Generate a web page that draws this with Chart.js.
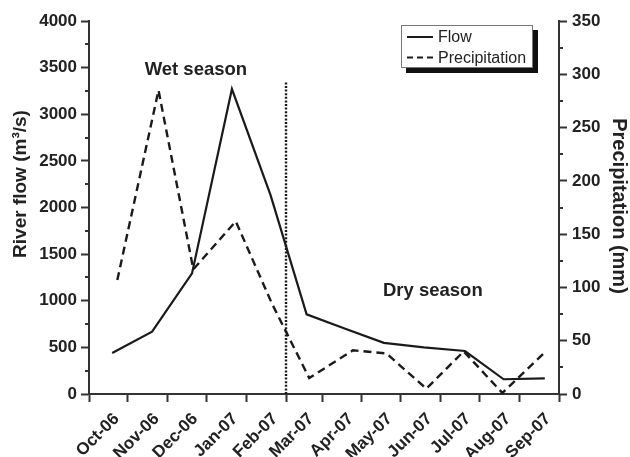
<!DOCTYPE html>
<html>
<head>
<meta charset="utf-8">
<script src="https://cdn.jsdelivr.net/npm/chart.js@4.4.1/dist/chart.umd.min.js"></script>
<style>
  html, body { margin: 0; padding: 0; background: #fff; }
  #wrap { width: 630px; height: 457px; position: relative; }
</style>
</head>
<body>
<div id="wrap"><canvas id="flowChart"></canvas></div>
<script>
// Tick marks sit on the 1st of each month, labels from Oct-06 on
const monthStarts = ['2006-09-01', '2006-10-01', '2006-11-01', '2006-12-01', '2007-01-01', '2007-02-01',
    '2007-03-01', '2007-04-01', '2007-05-01', '2007-06-01', '2007-07-01', '2007-08-01', '2007-09-01'];
const monthLabels = ['Oct-06', 'Nov-06', 'Dec-06', 'Jan-07', 'Feb-07', 'Mar-07',
    'Apr-07', 'May-07', 'Jun-07', 'Jul-07', 'Aug-07', 'Sep-07'];

// River flow (m3/s)
const flowDates = ['2006-09-19', '2006-10-20', '2006-11-20', '2006-12-21', '2007-01-20', '2007-02-17',
    '2007-03-19', '2007-04-18', '2007-05-19', '2007-06-20', '2007-07-20', '2007-08-21'];
const flowValues = [440, 668, 1293, 3270, 2133, 854, 700, 548, 500, 461, 158, 168];

// Precipitation (mm)
const precipDates = ['2006-09-23', '2006-10-25', '2006-11-21', '2006-12-24', '2007-01-21', '2007-02-19',
    '2007-03-25', '2007-04-20', '2007-05-21', '2007-06-19', '2007-07-19', '2007-08-20'];
const precipValues = [107, 285, 117, 162, 85, 15, 41, 38, 5, 40, 1, 38];

// Wet / dry season split
const seasonSplit = '2007-02-01';
const seasonLineTop = 3340;
const seasonNotes = [
    { text: 'Wet season', date: '2006-11-23', flow: 3475 },
    { text: 'Dry season', date: '2007-05-26', flow: 1110 }
];

const day0 = Date.parse(monthStarts[0]);
const toDay = (s) => (Date.parse(s) - day0) / 86400000;
const tickDays = monthStarts.map(toDay);

const axisColor = '#333';
const inkColor = '#1a1a1a';
const tickFont = { size: 17, weight: 'bold' };
const plainNumber = (v) => String(v);

Chart.defaults.font.family = "'Liberation Sans', Arial, sans-serif";
Chart.defaults.color = '#222';

// minor ticks, axis titles, season notes and the boxed legend
const extras = {
    id: 'extras',
    afterDraw(chart) {
        const { ctx, chartArea, scales } = chart;
        ctx.save();

        // Minor ticks between the labelled ones
        ctx.strokeStyle = axisColor;
        ctx.lineWidth = 2;
        ctx.beginPath();
        for (let v = 250; v < 4000; v += 500) {
            const y = Math.round(scales.y.getPixelForValue(v));
            ctx.moveTo(chartArea.left - 4, y);
            ctx.lineTo(chartArea.left, y);
        }
        for (let v = 25; v < 350; v += 50) {
            const y = Math.round(scales.y1.getPixelForValue(v));
            ctx.moveTo(chartArea.right, y);
            ctx.lineTo(chartArea.right + 4, y);
        }
        ctx.stroke();

        // Axis titles
        ctx.fillStyle = '#222';
        ctx.textAlign = 'center';
        ctx.textBaseline = 'middle';
        ctx.font = "bold 19px 'Liberation Sans', Arial, sans-serif";
        ctx.save();
        ctx.translate(21, 184);
        ctx.rotate(-Math.PI / 2);
        ctx.fillText('River flow (m\u00b3/s)', 0, 0);
        ctx.restore();

        ctx.font = "bold 20px 'Liberation Sans', Arial, sans-serif";
        ctx.save();
        ctx.translate(619, 206);
        ctx.rotate(Math.PI / 2);
        ctx.fillText('Precipitation (mm)', 0, 0);
        ctx.restore();

        // Season notes
        ctx.font = "bold 18.5px 'Liberation Sans', Arial, sans-serif";
        seasonNotes.forEach(n => {
            ctx.fillText(n.text, scales.x.getPixelForValue(toDay(n.date)), scales.y.getPixelForValue(n.flow));
        });

        // Legend box with drop shadow
        const lw = 132, lh = 43;
        const lx = chartArea.right - 26 - lw;
        const ly = chartArea.top + 4;
        ctx.fillStyle = '#111';
        ctx.fillRect(lx + 5, ly + 5, lw, lh);
        ctx.fillStyle = '#fff';
        ctx.fillRect(lx, ly, lw, lh);
        ctx.strokeStyle = '#777';
        ctx.lineWidth = 1;
        ctx.strokeRect(lx + 0.5, ly + 0.5, lw - 1, lh - 1);

        ctx.font = "16px 'Liberation Sans', Arial, sans-serif";
        ctx.textAlign = 'left';
        chart.data.datasets.slice(0, 2).forEach((ds, i) => {
            const y = ly + 12 + i * 20.6;
            ctx.strokeStyle = ds.borderColor;
            ctx.lineWidth = 2;
            ctx.setLineDash(ds.borderDash ? [6, 4] : []);
            ctx.beginPath();
            ctx.moveTo(lx + 6, y);
            ctx.lineTo(lx + 32, y);
            ctx.stroke();
            ctx.setLineDash([]);
            ctx.fillStyle = '#222';
            ctx.fillText(ds.label, lx + 37, y + 1);
        });

        ctx.restore();
    }
};

const ctx = document.getElementById('flowChart').getContext('2d');

new Chart(ctx, {
    type: 'line',
    data: {
        datasets: [
            {
                label: 'Flow',
                data: flowDates.map((d, i) => ({ x: toDay(d), y: flowValues[i] })),
                yAxisID: 'y',
                borderColor: inkColor,
                borderWidth: 2.2,
                pointRadius: 0,
                tension: 0
            },
            {
                label: 'Precipitation',
                data: precipDates.map((d, i) => ({ x: toDay(d), y: precipValues[i] })),
                yAxisID: 'y1',
                borderColor: inkColor,
                borderWidth: 2.4,
                borderDash: [8, 5],
                pointRadius: 0,
                tension: 0
            },
            {
                label: 'Season split',
                data: [{ x: toDay(seasonSplit), y: 0 }, { x: toDay(seasonSplit), y: seasonLineTop }],
                yAxisID: 'y',
                borderColor: inkColor,
                borderWidth: 2.4,
                borderDash: [2, 1.6],
                pointRadius: 0
            }
        ]
    },
    options: {
        responsive: true,
        maintainAspectRatio: false,
        animation: false,
        layout: { padding: { top: 21, left: 0, right: 0, bottom: 0 } },
        plugins: {
            legend: { display: false },
            tooltip: { enabled: false }
        },
        scales: {
            x: {
                type: 'linear',
                min: tickDays[0],
                max: tickDays[tickDays.length - 1],
                afterBuildTicks: (scale) => {
                    scale.ticks = tickDays.map(v => ({ value: v }));
                },
                afterFit: (scale) => { scale.height = 63; },
                ticks: {
                    autoSkip: false,
                    minRotation: 45,
                    maxRotation: 45,
                    padding: 7,
                    labelOffset: -11,
                    font: tickFont,
                    color: '#222',
                    callback: (value, index) => index === 0 ? '' : monthLabels[index - 1]
                },
                grid: { drawOnChartArea: false, tickLength: 8, tickWidth: 2, tickColor: axisColor },
                border: { color: axisColor, width: 2 }
            },
            y: {
                position: 'left',
                min: 0,
                max: 4000,
                afterFit: (scale) => { scale.width = 89; },
                ticks: { stepSize: 500, padding: 4, font: tickFont, color: '#222', callback: plainNumber },
                grid: { drawOnChartArea: false, tickLength: 8, tickWidth: 2, tickColor: axisColor },
                border: { color: axisColor, width: 2 }
            },
            y1: {
                position: 'right',
                min: 0,
                max: 350,
                afterFit: (scale) => { scale.width = 71; },
                ticks: { stepSize: 50, padding: 5, font: tickFont, color: '#222', callback: plainNumber },
                grid: { drawOnChartArea: false, tickLength: 8, tickWidth: 2, tickColor: axisColor },
                border: { color: axisColor, width: 2 }
            }
        }
    },
    plugins: [extras]
});
</script>
</body>
</html>
